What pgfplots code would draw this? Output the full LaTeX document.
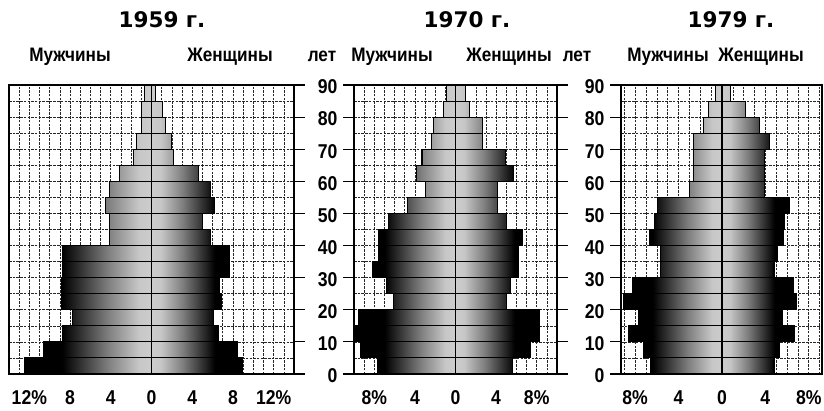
\documentclass[border=0pt]{standalone}
\usepackage{fontspec}
\setmainfont{Liberation Sans}[FakeStretch=0.9]
\newfontfamily\labfont{Liberation Sans}[FakeStretch=0.88]
\newfontfamily\titlefont{DejaVu Sans}
\usepackage{pgfplots}
\pgfplotsset{compat=1.18}
\usepackage{pgfplotstable}

\pgfdeclarehorizontalshading{maleshade}{100bp}{color(0bp)=(black); color(25bp)=(black); color(40bp)=(black); color(58bp)=(black!50); color(70bp)=(black!22); color(75bp)=(black!20); color(100bp)=(black!20)}
\pgfdeclarehorizontalshading{femaleshade}{100bp}{color(0bp)=(black!20); color(25bp)=(black!20); color(30bp)=(black!22); color(42bp)=(black!50); color(60bp)=(black); color(75bp)=(black); color(100bp)=(black)}

% age group centre, male (negative), female
\pgfplotstableread{
age m f
2.5 -12.5 8.9
7.5 -10.6 8.4
12.5 -8.7 6.6
17.5 -7.8 6.1
22.5 -8.8 6.9
27.5 -8.8 6.7
32.5 -8.7 7.7
37.5 -8.7 7.7
42.5 -4.1 5.8
47.5 -4.1 5.0
52.5 -4.5 6.2
57.5 -4.1 5.8
62.5 -3.1 4.6
67.5 -1.8 2.2
72.5 -1.5 2.0
77.5 -1.0 1.4
82.5 -1.0 1.1
87.5 -0.7 0.4
}\popA

\pgfplotstableread{
age m f
2.5 -7.7 5.6
7.5 -9.4 7.4
12.5 -9.95 8.3
17.5 -9.6 8.3
22.5 -6.1 5.0
27.5 -6.8 5.4
32.5 -8.2 6.2
37.5 -7.6 6.2
42.5 -7.6 6.6
47.5 -6.6 5.0
52.5 -4.7 4.1
57.5 -3.0 4.1
62.5 -3.8 5.7
67.5 -3.3 4.9
72.5 -2.4 2.7
77.5 -2.2 2.7
82.5 -1.2 1.35
87.5 -0.9 1.0
}\popB

\pgfplotstableread{
age m f
2.5 -6.6 4.8
7.5 -7.2 5.3
12.5 -8.6 6.7
17.5 -7.7 5.6
22.5 -9.1 6.9
27.5 -8.2 6.6
32.5 -5.7 4.8
37.5 -5.7 5.1
42.5 -6.7 5.7
47.5 -6.2 5.8
52.5 -5.9 6.2
57.5 -3.0 3.9
62.5 -2.6 3.9
67.5 -2.6 3.9
72.5 -2.6 4.4
77.5 -1.7 3.5
82.5 -1.2 2.2
87.5 -0.6 0.8
}\popC

\pgfplotsset{
  pyr/.style={
    scale only axis, height=289pt, anchor=south west,
    ymin=0, ymax=90,
    ytick={0,10,...,90}, minor ytick={5,15,...,85},
    yticklabels={0,10,20,30,40,50,60,70,80,90},
    ymajorgrids, yminorgrids, xminorgrids,
    grid style={black!85, line width=0.6pt, dash pattern=on 2.5pt off 1.2pt},
    minor grid style={black!85, line width=0.6pt, dash pattern=on 2.5pt off 1.2pt},
    axis line style={line width=1.1pt},
    xtick style={draw=none},
    ytick style={black, line width=1.1pt},
    tick align=outside, major tick length=11pt, minor tick length=0pt,
    every tick label/.append style={font=\labfont\bfseries\fontsize{20}{22}\selectfont},
    xticklabel style={yshift=-2pt},
    yticklabel style={yshift=-2pt, xshift=-2pt},
    axis on top=false,
  },
  mbar/.style={xbar, bar width=5, bar shift=0pt, draw=black, line width=1.1pt, shade, shading=maleshade},
  fbar/.style={xbar, bar width=5, bar shift=0pt, draw=black, line width=1.1pt, shade, shading=femaleshade},
}

\begin{document}
\begin{tikzpicture}[x=1pt,y=1pt]
\useasboundingbox (0,0) rectangle (824,410);

% 1959
\begin{axis}[pyr, at={(9pt,36pt)}, width=285pt,
  xmin=-14, xmax=14,
  xtick={-12,-8,-4,0,4,8,12}, xticklabels={12\%,8,4,0,4,8,12\%},
  minor xtick={-13,...,13},
  ytick pos=right, yticklabels={}]
\addplot[mbar] table[x=m,y=age]{\popA};
\addplot[fbar] table[x=f,y=age]{\popA};
\draw[line width=1.5pt] (axis cs:0,0) -- (axis cs:0,90);
\end{axis}

% 1970
\begin{axis}[pyr, at={(354pt,36pt)}, width=203pt,
  xmin=-10, xmax=10,
  xtick={-8,-4,0,4,8}, xticklabels={8\%,4,0,4,8\%},
  minor xtick={-9,...,9},
  ytick pos=both, yticklabel pos=left]
\addplot[mbar] table[x=m,y=age]{\popB};
\addplot[fbar] table[x=f,y=age]{\popB};
\draw[line width=1.5pt] (axis cs:0,0) -- (axis cs:0,90);
\end{axis}

% 1979
\begin{axis}[pyr, at={(621pt,36pt)}, width=201pt,
  xmin=-9.3, xmax=9.22,
  xtick={-8,-4,0,4,8}, xticklabels={8\%,4,0,4,8\%},
  minor xtick={-9,...,9},
  ytick pos=left]
\addplot[mbar] table[x=m,y=age]{\popC};
\addplot[fbar] table[x=f,y=age]{\popC};
\draw[line width=1.5pt] (axis cs:0,0) -- (axis cs:0,90);
\end{axis}

% titles and headers
\begin{scope}[every node/.style={inner sep=0pt, anchor=base}]
\node at (162,382) {\titlefont\bfseries\fontsize{21.5}{24}\selectfont 1959 г.};
\node at (467,382) {\titlefont\bfseries\fontsize{21.5}{24}\selectfont 1970 г.};
\node at (731,382) {\titlefont\bfseries\fontsize{21.5}{24}\selectfont 1979 г.};
\begin{scope}[every node/.append style={font=\labfont\bfseries\fontsize{19.5}{22}\selectfont}]
\node at (70,348.5) {Мужчины};
\node at (230,348.5) {Женщины};
\node at (322,348.5) {лет};
\node at (392,348.5) {Мужчины};
\node at (509,348.5) {Женщины};
\node at (577,348.5) {лет};
\node at (668,348.5) {Мужчины};
\node at (761,348.5) {Женщины};
\end{scope}
\end{scope}
\end{tikzpicture}
\end{document}
